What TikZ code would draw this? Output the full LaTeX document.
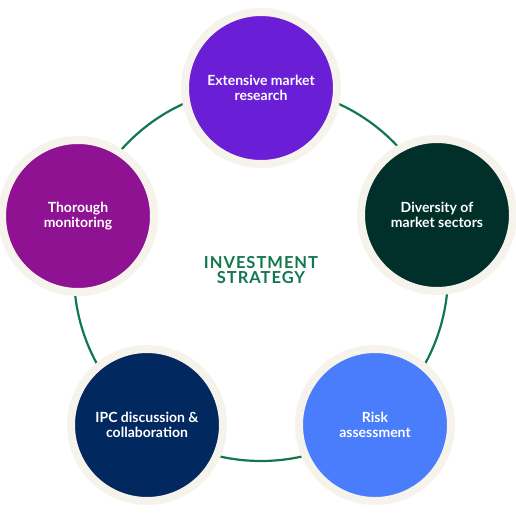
\documentclass[tikz,border=0pt]{standalone}
\usepackage{fontspec}
\setmainfont{Lato}
\newfontfamily\spacedfont[LetterSpace=6]{Lato}
\usepackage{tikz}
\usetikzlibrary{positioning}
\definecolor{colorMorado}{HTML}{6A1ED5}
\definecolor{colorMagenta}{HTML}{8E1291}
\definecolor{colorBosque}{HTML}{01302B}
\definecolor{colorAzul}{HTML}{4A7DFB}
\definecolor{colorMarino}{HTML}{022860}
\definecolor{verdeLinea}{HTML}{10774F}
\definecolor{anilloBeige}{HTML}{F6F3EC}

\begin{document}
\begin{tikzpicture}[x=1pt, y=-1pt, font=\bfseries\fontsize{14}{14.5}\selectfont,
        stage/.style={circle, draw=anilloBeige, line width=8pt, minimum size=152pt,
            inner sep=0pt, text=white, align=center},
        link/.style={draw=verdeLinea, line width=2.2pt}]
        \useasboundingbox (0,0) rectangle (516,514);
        \coordinate (hub) at (261,274);
        \draw[link] (hub) circle[radius=187pt];
        \node[stage, fill=colorMorado]  (research)  at (261,88)  {Extensive market\\research};
        \node[stage, fill=colorBosque]  (sectors)   at (437,215) {Diversity of\\market sectors};
        \node[stage, fill=colorAzul]    (risk)      at (375,425) {Risk\\assessment};
        \node[stage, fill=colorMarino]  (ipc)       at (147,425) {IPC discussion \&\\collaboration};
        \node[stage, fill=colorMagenta] (monitor)   at (78,216)  {Thorough\\monitoring};
        \node[text=verdeLinea, align=center, font=\spacedfont\bfseries\fontsize{16.5}{15.5}\selectfont]
            (strategy) at (hub) [yshift=4pt] {INVESTMENT\\STRATEGY};
    \end{tikzpicture}
\end{document}
